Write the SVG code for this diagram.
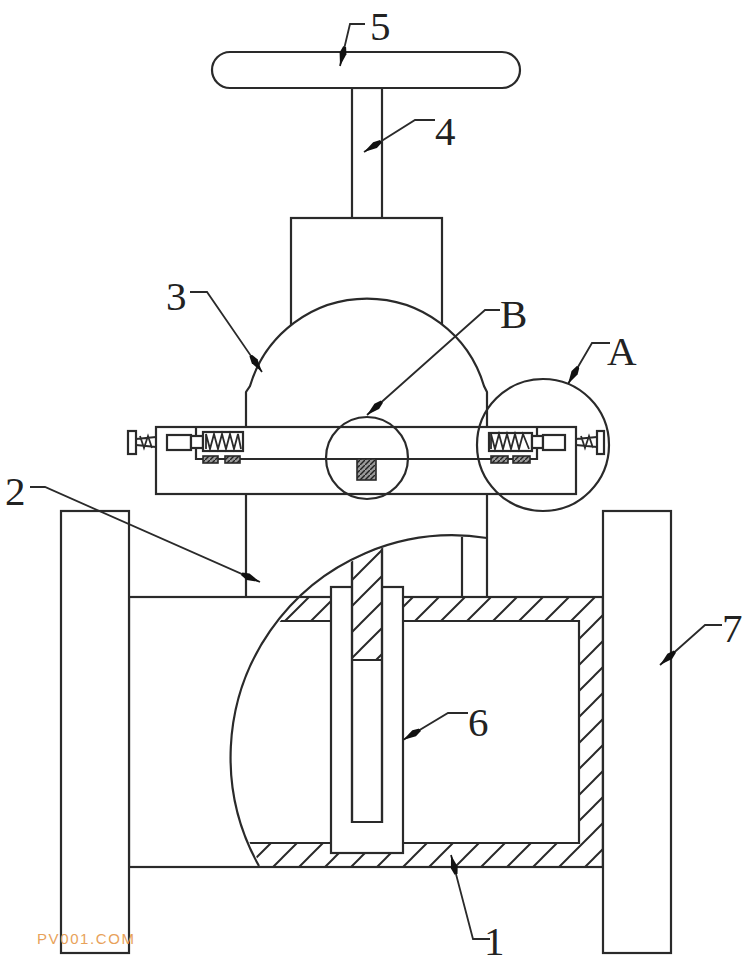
<svg xmlns="http://www.w3.org/2000/svg" width="750" height="965" viewBox="0 0 750 965">
<style>
.s{fill:#fff;stroke:#2a2a2a;stroke-width:2.2}
.n{fill:none;stroke:#2a2a2a;stroke-width:2.2}
.t{fill:none;stroke:#2a2a2a;stroke-width:1.8}
.h{fill:url(#hatch);stroke:none}
.m{fill:url(#mini);stroke:#2a2a2a;stroke-width:1.6}
.l{fill:none;stroke:#2a2a2a;stroke-width:1.8;marker-end:url(#arrow)}
text{font-family:"Liberation Serif",serif;font-size:41px;fill:#222}
</style>
<defs>
<pattern id="hatch" patternUnits="userSpaceOnUse" x="22" y="0" width="26" height="26"><path d="M0 26L26 0M-2 2L2 -2M24 28L28 24" fill="none" stroke="#2a2a2a" stroke-width="2"/></pattern>
<pattern id="mini" patternUnits="userSpaceOnUse" width="5" height="5"><rect width="5" height="5" fill="#999"/><path d="M0 5L5 0" stroke="#222" stroke-width="1.4"/></pattern>
<clipPath id="cut"><circle cx="455" cy="758" r="222"/></clipPath>
<marker id="arrow" markerUnits="userSpaceOnUse" viewBox="0 0 20 8" refX="20" refY="4" markerWidth="20" markerHeight="8" orient="auto"><path d="M0 2.5L7 0.5L20 4L7 7.5L0 5.5Z" fill="#111"/></marker>
</defs>
<rect width="750" height="965" fill="#fff"/>

<g id="stem-4"><rect class="s" x="352" y="88" width="30" height="132"/></g>
<g id="handle-5"><rect class="s" x="212" y="52" width="308" height="36" rx="18"/></g>
<g id="bonnet"><rect class="s" x="291" y="218" width="151" height="120"/></g>
<g id="body-3"><path class="s" d="M246 597V392L250 386A122 122 0 0 1 484 386L487 392V597Z"/></g>

<g id="valve-pipe-1">
<rect class="s" x="129" y="597" width="474" height="270"/>
<path class="h" clip-path="url(#cut)" fill-rule="evenodd" d="M200 597H603V867H200ZM200 621V843H579V621Z"/>
<path class="n" clip-path="url(#cut)" d="M200 621H579V843H200"/>
<path class="n" d="M129 597H603V867H129"/>
<path class="n" d="M487 538A222 222 0 0 0 259 866"/>
<path class="n" d="M462 537V597"/>
</g>

<g id="flange-left-7"><rect class="s" x="61" y="511" width="68" height="442"/></g>
<g id="flange-right-7"><rect class="s" x="603" y="511" width="68" height="442"/></g>

<g id="gate-6">
<rect class="s" x="331" y="587" width="72" height="266"/>
<path class="s" clip-path="url(#cut)" d="M352 530H382V822H352Z"/>
<path class="h" clip-path="url(#cut)" d="M352 530H382V660H352Z"/>
<path class="n" clip-path="url(#cut)" d="M352 530V822H382V530M352 660H382"/>
</g>

<g id="clamp-band">
<rect class="s" x="156" y="427" width="420" height="67"/>
<path class="n" d="M196 427V459H537V427"/>
</g>
<g id="clamp-left">
<rect class="s" x="128" y="431" width="8" height="23"/>
<path class="t" d="M136 439L156 437M136 445L156 447M140 436L144 448L148 436L152 448"/>
<rect class="s" x="167" y="435" width="24" height="15"/>
<rect class="s" x="191" y="436" width="12" height="12"/>
<rect class="s" x="203" y="432" width="40" height="19"/>
<path class="t" d="M206 449V434L210 449L214 434L218 449L222 434L226 449L230 434L234 449L238 434L241 449"/>
<rect class="m" x="203" y="456" width="15" height="7"/>
<rect class="m" x="225" y="456" width="15" height="7"/>
</g>
<g id="clamp-right">
<rect class="s" x="597" y="431" width="7" height="23"/>
<path class="t" d="M576 439L597 437M576 445L597 447M581 436L585 448L589 436L593 448"/>
<rect class="s" x="489" y="433" width="43" height="18"/>
<path class="t" d="M491 449V434L495 449L499 434L503 449L507 434L511 449L515 434L519 449L523 434L529 449"/>
<rect class="s" x="532" y="436" width="11" height="12"/>
<rect class="s" x="543" y="435" width="22" height="15"/>
<rect class="m" x="491" y="456" width="17" height="7"/>
<rect class="m" x="513" y="456" width="17" height="7"/>
</g>
<g id="block-center"><rect class="m" x="357" y="459" width="19" height="21"/></g>
<g id="detail-b"><circle class="n" cx="367" cy="458" r="41"/></g>
<g id="detail-a"><circle class="n" cx="543" cy="445" r="66"/></g>

<g id="connectors">
<path class="l" d="M365 24H350L340 66"/>
<path class="l" d="M435 120H415L364 152"/>
<path class="l" d="M190 292H207L262 372"/>
<path class="l" d="M500 310H485L367 415"/>
<path class="l" d="M610 343H592L568 384"/>
<path class="l" d="M30 487H45L260 582"/>
<path class="l" d="M468 713H448L403 740"/>
<path class="l" d="M722 625H705L660 665"/>
<path class="l" d="M490 939H473L451 855"/>
</g>

<g id="labels">
<text x="370" y="40">5</text>
<text x="435" y="145">4</text>
<text x="166" y="310">3</text>
<text x="500" y="328">B</text>
<text x="607" y="365">A</text>
<text x="5" y="505">2</text>
<text x="468" y="736">6</text>
<text x="722" y="642">7</text>
<text x="484" y="955">1</text>
<text x="37" y="944" style="font-family:'Liberation Sans',sans-serif;font-size:15px;fill:#e8a25a;letter-spacing:1.6px">PV001.COM</text>
</g>
</svg>
